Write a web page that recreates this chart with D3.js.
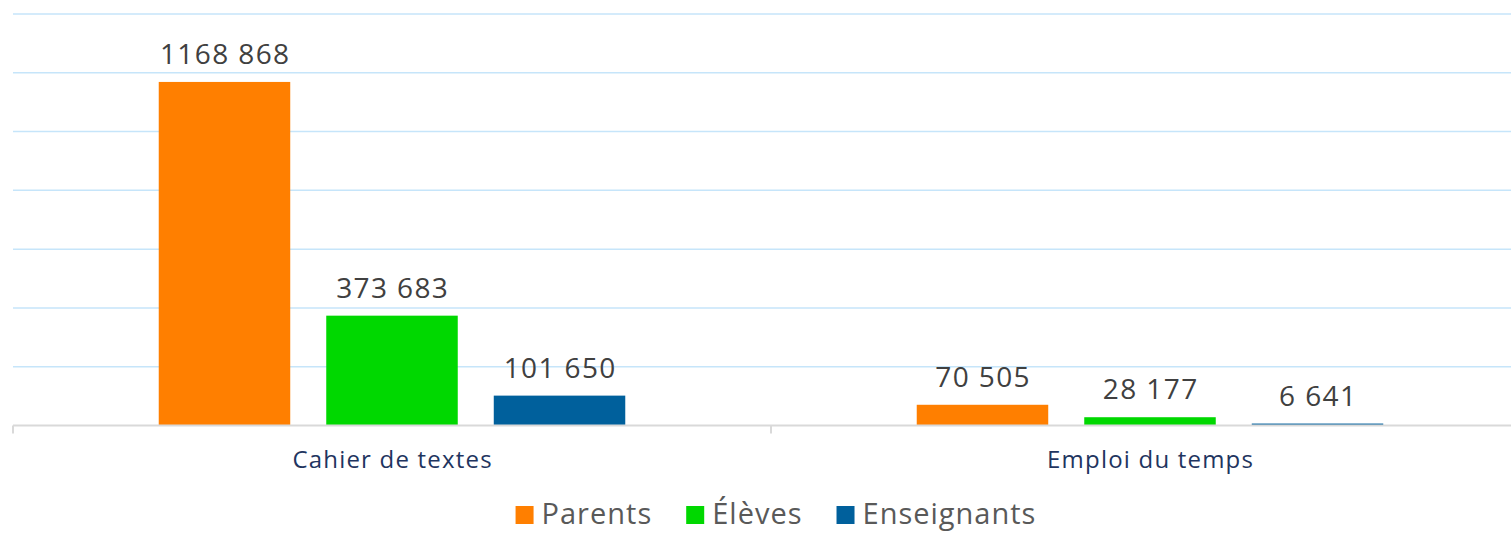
<!DOCTYPE html>
<html lang="fr">
<head>
<meta charset="utf-8">
<script src="https://cdn.jsdelivr.net/npm/d3@7"></script>
<style>
  html, body { margin: 0; padding: 0; background: #fff; }
  svg { display: block; font-family: "Open Sans", "Lato", sans-serif; }
</style>
</head>
<body>
<svg id="chart" width="1511" height="533"></svg>
<script>
// Usage par service et par profil
const categories = ["Cahier de textes", "Emploi du temps"];
const seriesNames = ["Parents", "Élèves", "Enseignants"];
const parents = [1168868, 70505];
const eleves = [373683, 28177];
const enseignants = [101650, 6641];
const gridTicks = [0, 200000, 400000, 600000, 800000, 1000000, 1200000, 1400000];
const colors = ["#ff7f00", "#00d800", "#00609c"];

(function draw() {
  const seriesValues = [parents, eleves, enseignants];
  const rows = categories.map((c, i) => ({
    category: c,
    values: seriesNames.map((s, j) => ({ series: s, value: seriesValues[j][i] }))
  }));

  const fr = d3.formatLocale({ decimal: ",", thousands: " ", grouping: [3, 4], currency: ["", " €"] });
  const fmt = fr.format(",d");

  const svg = d3.select("#chart");
  const W = 1511;
  const plotLeft = 13, plotRight = 1529, baseline = 425.5, plotTop = 14;

  const x0 = d3.scaleBand().domain(categories).range([plotLeft, plotRight]).paddingInner(0).paddingOuter(0);
  const x1 = d3.scaleBand().domain(seriesNames).range([0, x0.bandwidth()])
    .paddingInner(0.215).paddingOuter(0.87);
  const y = d3.scaleLinear().domain([0, 1400000]).range([baseline, plotTop]);
  const color = d3.scaleOrdinal().domain(seriesNames).range(colors);

  // horizontal gridlines
  svg.append("g")
    .selectAll("line")
    .data(gridTicks.filter(d => d > 0))
    .join("line")
    .attr("x1", plotLeft).attr("x2", W)
    .attr("y1", d => y(d)).attr("y2", d => y(d))
    .attr("stroke", "#c6e5fa").attr("stroke-width", 1.5);

  // bars
  const groups = svg.append("g")
    .selectAll("g")
    .data(rows)
    .join("g")
    .attr("transform", d => `translate(${x0(d.category)},0)`);

  groups.selectAll("rect")
    .data(d => d.values)
    .join("rect")
    .attr("x", d => x1(d.series))
    .attr("width", x1.bandwidth())
    .attr("y", d => y(d.value))
    .attr("height", d => baseline - y(d.value))
    .attr("fill", d => color(d.series));

  // value labels above each bar
  groups.selectAll("text")
    .data(d => d.values)
    .join("text")
    .attr("x", d => x1(d.series) + x1.bandwidth() / 2 + 0.7)
    .attr("y", d => y(d.value) - 18)
    .attr("text-anchor", "middle")
    .attr("font-size", 28)
    .attr("letter-spacing", 1.4)
    .attr("fill", "#404040")
    .text(d => fmt(d.value));

  // category axis
  const xAxis = d3.axisBottom(x0).tickSize(0).tickPadding(0);
  const axisG = svg.append("g").attr("transform", `translate(0,${baseline})`).call(xAxis);
  axisG.select(".domain").remove();
  axisG.append("line")
    .attr("x1", plotLeft).attr("x2", W).attr("y1", 0).attr("y2", 0)
    .attr("stroke", "#d9d9d9").attr("stroke-width", 2);
  axisG.selectAll(".sep")
    .data(categories)
    .join("line")
    .attr("class", "sep")
    .attr("x1", d => x0(d)).attr("x2", d => x0(d))
    .attr("y1", 0).attr("y2", 8)
    .attr("stroke", "#d9d9d9").attr("stroke-width", 2);
  axisG.selectAll(".tick text")
    .attr("y", 42)
    .attr("dy", 0)
    .attr("dx", 0.6)
    .attr("font-size", 24)
    .attr("letter-spacing", 1.2)
    .attr("font-family", "\"Open Sans\", \"Lato\", sans-serif")
    .attr("fill", "#1f3560");

  // legend
  const legend = svg.append("g");
  const items = legend.selectAll("g").data(seriesNames).join("g");
  items.append("rect")
    .attr("width", 18).attr("height", 18)
    .attr("y", 506)
    .attr("fill", d => color(d));
  items.append("text")
    .attr("x", 26).attr("y", 524)
    .attr("font-size", 29)
    .attr("letter-spacing", 1)
    .attr("fill", "#595959")
    .text(d => d);
  const widths = [];
  items.each(function () {
    const t = d3.select(this).select("text").node().getComputedTextLength();
    widths.push(26 + t);
  });
  const gap = 34;
  const total = d3.sum(widths) + gap * (widths.length - 1);
  let cursor = 776 - total / 2;
  items.attr("transform", (d, i) => {
    const tx = cursor;
    cursor += widths[i] + gap;
    return `translate(${tx},0)`;
  });
})();
</script>
</body>
</html>
